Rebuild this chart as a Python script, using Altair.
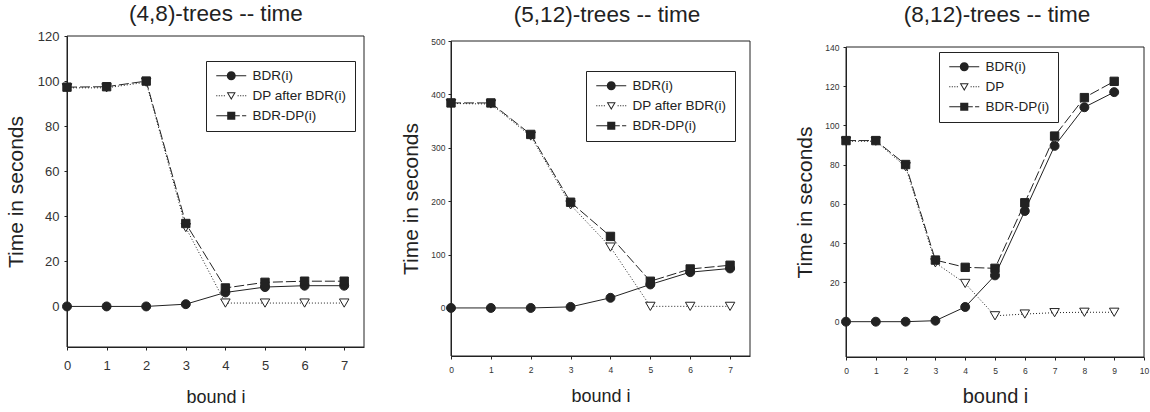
import altair as alt
import pandas as pd

# ---------------- data ----------------
titles = ["(4,8)-trees -- time", "(5,12)-trees  -- time", "(8,12)-trees  -- time"]
x_title = "bound i"
y_title = "Time in seconds"

labels_48 = ["BDR(i)", "DP after BDR(i)", "BDR-DP(i)"]
bound_48 = [0, 1, 2, 3, 4, 5, 6, 7]
bdr_48 = [0, 0, 0, 1, 6.2, 8.6, 9.2, 9.2]
dp_48 = [97, 97, 99.5, 35, 1.5, 1.5, 1.5, 1.5]
bdrdp_48 = [97.3, 97.5, 100, 36.8, 8.2, 10.7, 11.2, 11.2]
x_domain_48 = [0, 7.5]
y_domain_48 = [-18, 120]
x_ticks_48 = [0, 1, 2, 3, 4, 5, 6, 7]
y_ticks_48 = [0, 20, 40, 60, 80, 100, 120]

labels_512 = ["BDR(i)", "DP after BDR(i)", "BDR-DP(i)"]
bound_512 = [0, 1, 2, 3, 4, 5, 6, 7]
bdr_512 = [0, 0, 0, 2, 19, 44, 67, 74]
dp_512 = [383, 382, 322, 193, 114, 3, 3, 3]
bdrdp_512 = [384, 384, 325, 198, 134, 50, 73, 80]
x_domain_512 = [0, 7.5]
y_domain_512 = [-90, 500]
x_ticks_512 = [0, 1, 2, 3, 4, 5, 6, 7]
y_ticks_512 = [0, 100, 200, 300, 400, 500]

labels_812 = ["BDR(i)", "DP", "BDR-DP(i)"]
bound_812 = [0, 1, 2, 3, 4, 5, 6, 7, 8, 9]
bdr_812 = [0, 0, 0, 0.5, 7.5, 23.6, 56.4, 89.6, 109.3, 117]
dp_812 = [92, 92, 79, 30, 19.5, 3, 3.9, 4.6, 4.8, 4.8]
bdrdp_812 = [92.3, 92.3, 80.1, 31.4, 27.7, 27.2, 60.6, 94.6, 114.2, 122.5]
x_domain_812 = [0, 10]
y_domain_812 = [-18, 140]
x_ticks_812 = [0, 1, 2, 3, 4, 5, 6, 7, 8, 9, 10]
y_ticks_812 = [0, 20, 40, 60, 80, 100, 120, 140]

# ---------------- styling ----------------
INK = "#222222"
TXT = "#333333"
FONT = "Liberation Sans"
W, H = 1150, 412

U = 4.5            # px per legend-symbol unit (symbolSize 81 -> 9 px)
HALF = 15 / U      # legend line half length
T = 0.5 / U        # half thickness of legend line (filled bar)


def bar(a, b):
    return f"M{a:.3f},{-T:.3f}H{b:.3f}V{T:.3f}H{a:.3f}Z"


def dots_left(a, b, dot=0.24, step=0.56):
    out = []
    x = a
    while x + dot <= b + 1e-9:
        out.append((x, x + dot))
        x += step
    return out


_dl = dots_left(-HALF, -1.05)
tri_path = (
    "".join(bar(a, b) for a, b in _dl)
    + "".join(bar(-b, -a) for a, b in _dl)
    + "M-1,-0.8L1,-0.8L0,0.93Z"
    + "M-0.62,-0.58L0,0.49L0.62,-0.58Z"
)
circle_path = bar(-HALF, -0.98) + bar(0.98, HALF) + "M1,0A1,1,0,1,1,-1,0A1,1,0,1,1,1,0Z"
square_path = bar(-HALF, -0.88) + bar(0.88, 1.9) + bar(2.4, HALF) + "M-0.9,-0.9H0.9V0.9H-0.9Z"

series_style = [
    dict(shape="circle", fill=INK, size=80, path=circle_path),
    dict(shape="triangle-down", fill="white", size=90, dash=[1, 2], path=tri_path),
    dict(shape="square", fill=INK, size=70, dash=[10, 3], path=square_path),
]


def make_panel(bounds, values, labels, xdom, ydom, xticks, yticks, title, g):
    rows = []
    for lab, vals in zip(labels, values):
        for b, v in zip(bounds, vals):
            rows.append({"bound": b, "time": v, "series": lab})
    df = pd.DataFrame(rows)

    xs = alt.Scale(domain=xdom, range=[g["x0"], g["x1"]], nice=False, zero=False)
    ys = alt.Scale(domain=ydom, range=[g["yb"], g["yt"]], nice=False, zero=False)
    xaxis = alt.Axis(
        orient="bottom", offset=g["yb"] - H, values=xticks, grid=False,
        tickSize=3, tickColor=INK, domainColor=INK, labelFlush=False, labelOverlap=False,
        labelFont=FONT, labelFontSize=g["lfs"], labelColor=TXT, labelPadding=g["xlp"],
        title=x_title, titleFont=FONT, titleFontSize=g["xtfs"], titleFontWeight="normal",
        titleColor=INK, titleBaseline="middle", titleY=g["xty"],
    )
    yaxis = alt.Axis(
        orient="left", offset=-g["x0"], values=yticks, grid=False,
        tickSize=3, tickColor=INK, domainColor=INK, labelFlush=False, labelOverlap=False,
        labelFont=FONT, labelFontSize=g["lfs"], labelColor=TXT, labelPadding=g["ylp"],
        title=y_title, titleFont=FONT, titleFontSize=21, titleFontWeight="normal",
        titleColor=INK, titleAngle=270, titleBaseline="middle", titleX=g["ytx"],
    )
    X = alt.X("bound:Q", scale=xs, axis=xaxis)
    Y = alt.Y("time:Q", scale=ys, axis=yaxis)

    frame_df = pd.DataFrame({"x0": [xdom[0]], "x1": [xdom[1]], "y0": [ydom[0]], "y1": [ydom[1]]})
    frame = alt.Chart(frame_df).mark_rect(fillOpacity=0, stroke=INK, strokeWidth=1).encode(
        x=alt.X("x0:Q", scale=xs, axis=xaxis), x2="x1:Q",
        y=alt.Y("y0:Q", scale=ys, axis=yaxis), y2="y1:Q",
    )

    layers = [frame]
    for lab, st in zip(labels, series_style):
        kw = dict(stroke=INK, strokeWidth=1)
        if "dash" in st:
            kw["strokeDash"] = st["dash"]
        layers.append(
            alt.Chart(df).transform_filter(alt.datum.series == lab)
            .mark_line(**kw).encode(x=X, y=Y)
        )
    for idx in [1, 0, 2]:
        lab, st = labels[idx], series_style[idx]
        layers.append(
            alt.Chart(df).transform_filter(alt.datum.series == lab)
            .mark_point(shape=st["shape"], filled=True, fill=st["fill"], stroke=INK,
                        strokeWidth=1, size=st["size"], opacity=1)
            .encode(x=X, y=Y)
        )

    leg = alt.Legend(
        orient="none", legendX=g["lx"], legendY=g["ly"], title=None,
        symbolSize=81, symbolStrokeWidth=0,
        symbolOffset=HALF * U - 4.5, labelOffset=HALF * U + 7 - 4.5 - 3,
        labelFont=FONT, labelFontSize=13.5, labelColor=INK, labelLimit=300,
        strokeColor=INK, fillColor="white", padding=8, rowPadding=5,
    )
    legend_layer = alt.Chart(df).transform_filter("false").mark_point(
        filled=True, opacity=1, color=INK
    ).encode(
        shape=alt.Shape("series:N", scale=alt.Scale(domain=labels, range=[s["path"] for s in series_style]), legend=leg),
        fill=alt.Fill("series:N", scale=alt.Scale(domain=labels, range=[INK, INK, INK]), legend=leg),
    )
    layers.append(legend_layer)

    title_layer = alt.Chart(pd.DataFrame({"t": [title]})).mark_text(
        font=FONT, fontSize=22.5, color=INK, align="center", baseline="middle"
    ).encode(text="t:N", x=alt.value(g["tx"]), y=alt.value(g["ty"]))
    layers.append(title_layer)

    return alt.layer(*layers)


geo_48 = dict(x0=67, x1=364, yt=36, yb=347, lfs=13, xlp=9, ylp=5, xtfs=18, xty=50, ytx=-51,
              lx=206, ly=61, tx=216, ty=14)
geo_512 = dict(x0=451, x1=750, yt=41, yb=356, lfs=8.5, xlp=6, ylp=3, xtfs=18, xty=40, ytx=-40,
               lx=586, ly=71, tx=607, ty=15)
geo_812 = dict(x0=846, x1=1144, yt=47, yb=357, lfs=8.5, xlp=6, ylp=4, xtfs=20, xty=39, ytx=-41,
               lx=939, ly=52, tx=997, ty=15)

p1 = make_panel(bound_48, [bdr_48, dp_48, bdrdp_48], labels_48, x_domain_48, y_domain_48,
                x_ticks_48, y_ticks_48, titles[0], geo_48)
p2 = make_panel(bound_512, [bdr_512, dp_512, bdrdp_512], labels_512, x_domain_512, y_domain_512,
                x_ticks_512, y_ticks_512, titles[1], geo_512)
p3 = make_panel(bound_812, [bdr_812, dp_812, bdrdp_812], labels_812, x_domain_812, y_domain_812,
                x_ticks_812, y_ticks_812, titles[2], geo_812)

chart = (
    alt.layer(p1, p2, p3)
    .resolve_scale(x="independent", y="independent", shape="independent", fill="independent")
    .resolve_axis(x="independent", y="independent")
    .resolve_legend(shape="independent", fill="independent")
    .properties(width=W, height=H, padding=0, autosize=alt.AutoSizeParams(type="none"),
                background="white")
    .configure_view(stroke="transparent")
)

chart.save("out.html", embed_options={"renderer": "svg", "actions": False})
